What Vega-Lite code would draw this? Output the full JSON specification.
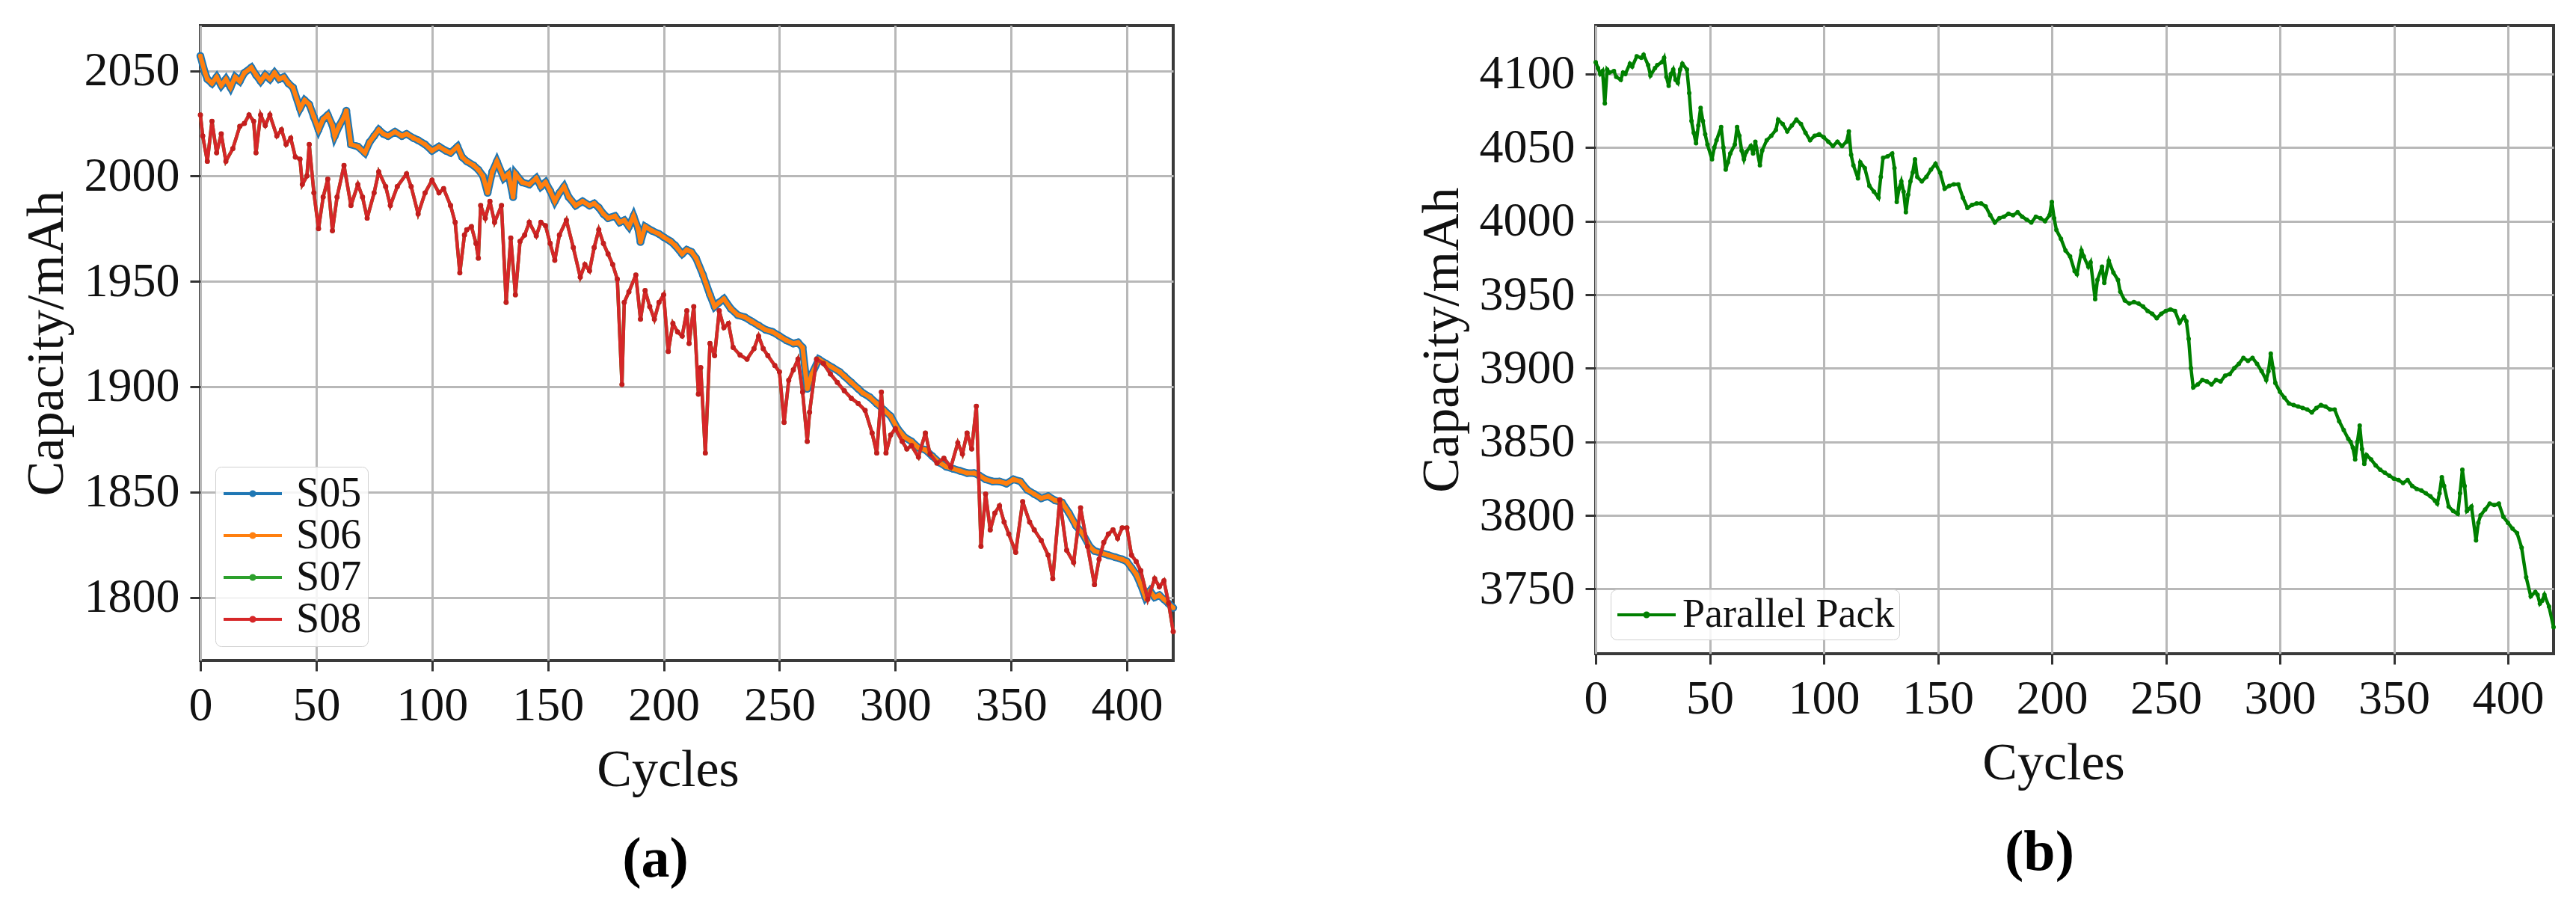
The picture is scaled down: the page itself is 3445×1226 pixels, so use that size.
{
"$schema":"https://vega.github.io/schema/vega-lite/v6.json",
"background":"white",
"padding":{"left":25,"top":32,"right":0,"bottom":0},
"datasets":{
"band":[{"c":0,"S05":2057,"S06":2057},{"c":2,"S05":2049,"S06":2049},{"c":3,"S05":2046,"S06":2046},{"c":5,"S05":2044,"S06":2044},{"c":7,"S05":2047,"S06":2047},{"c":9,"S05":2043,"S06":2043},{"c":11,"S05":2046,"S06":2046},{"c":13,"S05":2042,"S06":2042},{"c":15,"S05":2047,"S06":2047},{"c":17,"S05":2045,"S06":2045},{"c":19,"S05":2049,"S06":2049},{"c":22,"S05":2051.5,"S06":2051.5},{"c":24,"S05":2048,"S06":2048},{"c":26,"S05":2045,"S06":2045},{"c":28,"S05":2048,"S06":2048},{"c":30,"S05":2046,"S06":2046},{"c":32,"S05":2049,"S06":2049},{"c":34,"S05":2046,"S06":2046},{"c":36,"S05":2047,"S06":2047},{"c":38,"S05":2044,"S06":2044},{"c":40,"S05":2042,"S06":2042},{"c":43,"S05":2032,"S06":2032},{"c":45,"S05":2036,"S06":2036},{"c":47,"S05":2034,"S06":2034},{"c":49,"S05":2028,"S06":2028},{"c":51,"S05":2022,"S06":2022},{"c":53,"S05":2027,"S06":2027},{"c":55,"S05":2029,"S06":2029},{"c":57,"S05":2024,"S06":2024},{"c":58,"S05":2019,"S06":2019},{"c":60,"S05":2024,"S06":2024},{"c":62,"S05":2028,"S06":2028},{"c":63,"S05":2031,"S06":2031},{"c":65,"S05":2015,"S06":2015},{"c":68,"S05":2014,"S06":2014},{"c":71,"S05":2011,"S06":2011},{"c":73,"S05":2016,"S06":2016},{"c":75,"S05":2019,"S06":2019},{"c":77,"S05":2022,"S06":2022},{"c":79,"S05":2020,"S06":2020},{"c":81,"S05":2019,"S06":2019},{"c":84,"S05":2021,"S06":2021},{"c":87,"S05":2019,"S06":2019},{"c":89,"S05":2020,"S06":2020},{"c":92,"S05":2018,"S06":2018},{"c":94,"S05":2017,"S06":2017},{"c":97,"S05":2015,"S06":2015},{"c":100,"S05":2012,"S06":2012},{"c":103,"S05":2014,"S06":2014},{"c":106,"S05":2012,"S06":2012},{"c":108,"S05":2011,"S06":2011},{"c":111,"S05":2014,"S06":2014},{"c":113,"S05":2009,"S06":2009},{"c":115,"S05":2007,"S06":2007},{"c":118,"S05":2005,"S06":2005},{"c":120,"S05":2003,"S06":2003},{"c":122,"S05":2000,"S06":2000},{"c":124,"S05":1992,"S06":1992},{"c":126,"S05":2002,"S06":2002},{"c":128,"S05":2007,"S06":2007},{"c":131,"S05":1999,"S06":1999},{"c":133,"S05":2001,"S06":2001},{"c":135,"S05":1990,"S06":1990},{"c":136,"S05":2001,"S06":2001},{"c":139,"S05":1997,"S06":1997},{"c":142,"S05":1996,"S06":1996},{"c":145,"S05":1999,"S06":1999},{"c":147,"S05":1995,"S06":1995},{"c":149,"S05":1997,"S06":1997},{"c":151,"S05":1993,"S06":1993},{"c":153,"S05":1988,"S06":1988},{"c":155,"S05":1992,"S06":1992},{"c":157,"S05":1995,"S06":1995},{"c":159,"S05":1990,"S06":1990},{"c":162,"S05":1986,"S06":1986},{"c":165,"S05":1988,"S06":1988},{"c":168,"S05":1986,"S06":1986},{"c":170,"S05":1987,"S06":1987},{"c":172,"S05":1985,"S06":1985},{"c":174,"S05":1982,"S06":1982},{"c":176,"S05":1980,"S06":1980},{"c":179,"S05":1981,"S06":1981},{"c":181,"S05":1978,"S06":1978},{"c":183,"S05":1979,"S06":1979},{"c":185,"S05":1976,"S06":1976},{"c":187,"S05":1981,"S06":1981},{"c":189,"S05":1975,"S06":1975},{"c":190,"S05":1968.7,"S06":1968.7},{"c":192,"S05":1976,"S06":1976},{"c":195,"S05":1974,"S06":1974},{"c":198,"S05":1972.5,"S06":1972.5},{"c":200,"S05":1971,"S06":1971},{"c":203,"S05":1969,"S06":1969},{"c":205,"S05":1967,"S06":1967},{"c":208,"S05":1963,"S06":1963},{"c":210,"S05":1965,"S06":1965},{"c":212,"S05":1964,"S06":1964},{"c":214,"S05":1961,"S06":1961},{"c":217,"S05":1953,"S06":1953},{"c":220,"S05":1943.6,"S06":1943.6},{"c":222,"S05":1938,"S06":1938},{"c":224,"S05":1940,"S06":1940},{"c":226,"S05":1941.7,"S06":1941.7},{"c":229,"S05":1937,"S06":1937},{"c":232,"S05":1934,"S06":1934},{"c":235,"S05":1933,"S06":1933},{"c":238,"S05":1931,"S06":1931},{"c":241,"S05":1929,"S06":1929},{"c":244,"S05":1927,"S06":1927},{"c":247,"S05":1926,"S06":1926},{"c":250,"S05":1924,"S06":1924},{"c":253,"S05":1922,"S06":1922},{"c":256,"S05":1920.5,"S06":1920.5},{"c":258,"S05":1921,"S06":1921},{"c":260,"S05":1918.6,"S06":1918.6},{"c":262,"S05":1899,"S06":1899},{"c":264,"S05":1906,"S06":1906},{"c":267,"S05":1913,"S06":1913},{"c":270,"S05":1911,"S06":1911},{"c":273,"S05":1909,"S06":1909},{"c":276,"S05":1907,"S06":1907},{"c":278,"S05":1905,"S06":1905},{"c":281,"S05":1902,"S06":1902},{"c":284,"S05":1899,"S06":1899},{"c":286,"S05":1897,"S06":1897},{"c":289,"S05":1895,"S06":1895},{"c":292,"S05":1892,"S06":1892},{"c":295,"S05":1889,"S06":1889},{"c":298,"S05":1886,"S06":1886},{"c":301,"S05":1880,"S06":1880},{"c":304,"S05":1876,"S06":1876},{"c":307,"S05":1874,"S06":1874},{"c":310,"S05":1871,"S06":1871},{"c":313,"S05":1870,"S06":1870},{"c":316,"S05":1867,"S06":1867},{"c":319,"S05":1864,"S06":1864},{"c":322,"S05":1862,"S06":1862},{"c":325,"S05":1861,"S06":1861},{"c":328,"S05":1860,"S06":1860},{"c":331,"S05":1859,"S06":1859},{"c":334,"S05":1859,"S06":1859},{"c":336,"S05":1858,"S06":1858},{"c":339,"S05":1856,"S06":1856},{"c":342,"S05":1855,"S06":1855},{"c":345,"S05":1855,"S06":1855},{"c":348,"S05":1854,"S06":1854},{"c":351,"S05":1856,"S06":1856},{"c":354,"S05":1855,"S06":1855},{"c":357,"S05":1851,"S06":1851},{"c":360,"S05":1849,"S06":1849},{"c":363,"S05":1847,"S06":1847},{"c":366,"S05":1848,"S06":1848},{"c":369,"S05":1846,"S06":1846},{"c":372,"S05":1845,"S06":1845},{"c":375,"S05":1840,"S06":1840},{"c":378,"S05":1834,"S06":1834},{"c":381,"S05":1830,"S06":1830},{"c":384,"S05":1824,"S06":1824},{"c":386,"S05":1822,"S06":1822},{"c":389,"S05":1821,"S06":1821},{"c":392,"S05":1820,"S06":1820},{"c":395,"S05":1819,"S06":1819},{"c":398,"S05":1818,"S06":1818},{"c":400,"S05":1817,"S06":1817},{"c":402,"S05":1814,"S06":1814},{"c":404,"S05":1811,"S06":1811},{"c":406,"S05":1806,"S06":1806},{"c":408,"S05":1800,"S06":1800},{"c":410,"S05":1803,"S06":1803},{"c":412,"S05":1800,"S06":1800},{"c":414,"S05":1801,"S06":1801},{"c":416,"S05":1799,"S06":1799},{"c":418,"S05":1797,"S06":1797},{"c":420,"S05":1795,"S06":1795}],
"red":[{"c":0,"S07":2029,"S08":2029},{"c":1,"S07":2019,"S08":2019},{"c":3,"S07":2007,"S08":2007},{"c":5,"S07":2026,"S08":2026},{"c":7,"S07":2011,"S08":2011},{"c":9,"S07":2020,"S08":2020},{"c":11,"S07":2007,"S08":2007},{"c":14,"S07":2013,"S08":2013},{"c":17,"S07":2023.6,"S08":2023.6},{"c":19,"S07":2025,"S08":2025},{"c":21,"S07":2029,"S08":2029},{"c":23,"S07":2026,"S08":2026},{"c":24,"S07":2011,"S08":2011},{"c":26,"S07":2029,"S08":2029},{"c":28,"S07":2024,"S08":2024},{"c":30,"S07":2029,"S08":2029},{"c":33,"S07":2019,"S08":2019},{"c":35,"S07":2022,"S08":2022},{"c":37,"S07":2015,"S08":2015},{"c":39,"S07":2018,"S08":2018},{"c":41,"S07":2009,"S08":2009},{"c":43,"S07":2008,"S08":2008},{"c":44,"S07":1996,"S08":1996},{"c":46,"S07":2000,"S08":2000},{"c":47,"S07":2015,"S08":2015},{"c":49,"S07":1992,"S08":1992},{"c":51,"S07":1975,"S08":1975},{"c":53,"S07":1990,"S08":1990},{"c":55,"S07":1998.5,"S08":1998.5},{"c":57,"S07":1974,"S08":1974},{"c":59,"S07":1990,"S08":1990},{"c":62,"S07":2005,"S08":2005},{"c":65,"S07":1986,"S08":1986},{"c":68,"S07":1996,"S08":1996},{"c":70,"S07":1990,"S08":1990},{"c":72,"S07":1980,"S08":1980},{"c":75,"S07":1992,"S08":1992},{"c":77,"S07":2002,"S08":2002},{"c":80,"S07":1995,"S08":1995},{"c":82,"S07":1986,"S08":1986},{"c":85,"S07":1995,"S08":1995},{"c":89,"S07":2001,"S08":2001},{"c":91,"S07":1995,"S08":1995},{"c":94,"S07":1982,"S08":1982},{"c":97,"S07":1992,"S08":1992},{"c":100,"S07":1998,"S08":1998},{"c":103,"S07":1992,"S08":1992},{"c":105,"S07":1994,"S08":1994},{"c":108,"S07":1986,"S08":1986},{"c":110,"S07":1978,"S08":1978},{"c":112,"S07":1954,"S08":1954},{"c":114,"S07":1972,"S08":1972},{"c":115,"S07":1974.5,"S08":1974.5},{"c":117,"S07":1976,"S08":1976},{"c":119,"S07":1968,"S08":1968},{"c":120,"S07":1961,"S08":1961},{"c":121,"S07":1986,"S08":1986},{"c":123,"S07":1980,"S08":1980},{"c":125,"S07":1988,"S08":1988},{"c":127,"S07":1978,"S08":1978},{"c":130,"S07":1986,"S08":1986},{"c":132,"S07":1940,"S08":1940},{"c":134,"S07":1970.6,"S08":1970.6},{"c":136,"S07":1943.6,"S08":1943.6},{"c":138,"S07":1969,"S08":1969},{"c":140,"S07":1972,"S08":1972},{"c":142,"S07":1978,"S08":1978},{"c":145,"S07":1971.6,"S08":1971.6},{"c":147,"S07":1978,"S08":1978},{"c":149,"S07":1976.4,"S08":1976.4},{"c":151,"S07":1968,"S08":1968},{"c":153,"S07":1960,"S08":1960},{"c":155,"S07":1972,"S08":1972},{"c":158,"S07":1979,"S08":1979},{"c":161,"S07":1966,"S08":1966},{"c":164,"S07":1952,"S08":1952},{"c":166,"S07":1958,"S08":1958},{"c":168,"S07":1955,"S08":1955},{"c":170,"S07":1966,"S08":1966},{"c":172,"S07":1974.5,"S08":1974.5},{"c":174,"S07":1968,"S08":1968},{"c":176,"S07":1963,"S08":1963},{"c":178,"S07":1958,"S08":1958},{"c":180,"S07":1951,"S08":1951},{"c":182,"S07":1901,"S08":1901},{"c":183,"S07":1940,"S08":1940},{"c":185,"S07":1945,"S08":1945},{"c":188,"S07":1953,"S08":1953},{"c":190,"S07":1932,"S08":1932},{"c":192,"S07":1945.6,"S08":1945.6},{"c":194,"S07":1938,"S08":1938},{"c":196,"S07":1932,"S08":1932},{"c":198,"S07":1940,"S08":1940},{"c":200,"S07":1943.6,"S08":1943.6},{"c":202,"S07":1916.7,"S08":1916.7},{"c":204,"S07":1930,"S08":1930},{"c":206,"S07":1926,"S08":1926},{"c":208,"S07":1924,"S08":1924},{"c":210,"S07":1936,"S08":1936},{"c":211,"S07":1920.5,"S08":1920.5},{"c":213,"S07":1938,"S08":1938},{"c":215,"S07":1896.4,"S08":1896.4},{"c":216,"S07":1909,"S08":1909},{"c":218,"S07":1868.5,"S08":1868.5},{"c":220,"S07":1920.5,"S08":1920.5},{"c":222,"S07":1914.7,"S08":1914.7},{"c":224,"S07":1936,"S08":1936},{"c":226,"S07":1928,"S08":1928},{"c":228,"S07":1930,"S08":1930},{"c":230,"S07":1918.6,"S08":1918.6},{"c":233,"S07":1915,"S08":1915},{"c":236,"S07":1913,"S08":1913},{"c":239,"S07":1918,"S08":1918},{"c":241,"S07":1924,"S08":1924},{"c":243,"S07":1918,"S08":1918},{"c":245,"S07":1914.7,"S08":1914.7},{"c":248,"S07":1910,"S08":1910},{"c":250,"S07":1907,"S08":1907},{"c":252,"S07":1883,"S08":1883},{"c":254,"S07":1903,"S08":1903},{"c":256,"S07":1908,"S08":1908},{"c":258,"S07":1913,"S08":1913},{"c":260,"S07":1897.4,"S08":1897.4},{"c":262,"S07":1874,"S08":1874},{"c":263,"S07":1887.8,"S08":1887.8},{"c":266,"S07":1913,"S08":1913},{"c":269,"S07":1911,"S08":1911},{"c":272,"S07":1906,"S08":1906},{"c":275,"S07":1902,"S08":1902},{"c":278,"S07":1898,"S08":1898},{"c":281,"S07":1894.5,"S08":1894.5},{"c":284,"S07":1892,"S08":1892},{"c":287,"S07":1888.7,"S08":1888.7},{"c":290,"S07":1878,"S08":1878},{"c":292,"S07":1868.5,"S08":1868.5},{"c":294,"S07":1897.4,"S08":1897.4},{"c":296,"S07":1868.5,"S08":1868.5},{"c":298,"S07":1877,"S08":1877},{"c":300,"S07":1880,"S08":1880},{"c":303,"S07":1874,"S08":1874},{"c":305,"S07":1870.4,"S08":1870.4},{"c":307,"S07":1872,"S08":1872},{"c":310,"S07":1866.6,"S08":1866.6},{"c":313,"S07":1878,"S08":1878},{"c":315,"S07":1868,"S08":1868},{"c":318,"S07":1863.7,"S08":1863.7},{"c":321,"S07":1866,"S08":1866},{"c":324,"S07":1861.8,"S08":1861.8},{"c":327,"S07":1873.3,"S08":1873.3},{"c":329,"S07":1868,"S08":1868},{"c":331,"S07":1878,"S08":1878},{"c":333,"S07":1870.4,"S08":1870.4},{"c":335,"S07":1890.7,"S08":1890.7},{"c":337,"S07":1824.2,"S08":1824.2},{"c":339,"S07":1849,"S08":1849},{"c":341,"S07":1832,"S08":1832},{"c":343,"S07":1840,"S08":1840},{"c":345,"S07":1843.4,"S08":1843.4},{"c":347,"S07":1835.7,"S08":1835.7},{"c":349,"S07":1830,"S08":1830},{"c":352,"S07":1821.3,"S08":1821.3},{"c":355,"S07":1845.4,"S08":1845.4},{"c":358,"S07":1835.7,"S08":1835.7},{"c":360,"S07":1832,"S08":1832},{"c":363,"S07":1827,"S08":1827},{"c":366,"S07":1820,"S08":1820},{"c":368,"S07":1808.8,"S08":1808.8},{"c":371,"S07":1846.3,"S08":1846.3},{"c":374,"S07":1822.3,"S08":1822.3},{"c":377,"S07":1816.5,"S08":1816.5},{"c":380,"S07":1842.5,"S08":1842.5},{"c":383,"S07":1824.2,"S08":1824.2},{"c":386,"S07":1806,"S08":1806},{"c":388,"S07":1818,"S08":1818},{"c":390,"S07":1826,"S08":1826},{"c":392,"S07":1830,"S08":1830},{"c":394,"S07":1832,"S08":1832},{"c":396,"S07":1828,"S08":1828},{"c":398,"S07":1833,"S08":1833},{"c":400,"S07":1833,"S08":1833},{"c":402,"S07":1820,"S08":1820},{"c":404,"S07":1817,"S08":1817},{"c":406,"S07":1812.6,"S08":1812.6},{"c":409,"S07":1799,"S08":1799},{"c":412,"S07":1808.8,"S08":1808.8},{"c":414,"S07":1805,"S08":1805},{"c":416,"S07":1807.8,"S08":1807.8},{"c":418,"S07":1797.2,"S08":1797.2},{"c":420,"S07":1783.7,"S08":1783.7}],
"pack":[{"c":0,"P":4108},{"c":1,"P":4104},{"c":2,"P":4100},{"c":3,"P":4102},{"c":4,"P":4080},{"c":5,"P":4103},{"c":6,"P":4101},{"c":8,"P":4102},{"c":9,"P":4098},{"c":11,"P":4096},{"c":12,"P":4101},{"c":13,"P":4100},{"c":15,"P":4107},{"c":16,"P":4105},{"c":18,"P":4112},{"c":20,"P":4111},{"c":21,"P":4113},{"c":23,"P":4106},{"c":24,"P":4099},{"c":26,"P":4104},{"c":27,"P":4106},{"c":29,"P":4108},{"c":30,"P":4111},{"c":31,"P":4098},{"c":32,"P":4092},{"c":33,"P":4100},{"c":34,"P":4103},{"c":35,"P":4096},{"c":36,"P":4094},{"c":37,"P":4103},{"c":38,"P":4107},{"c":40,"P":4103},{"c":41,"P":4087},{"c":42,"P":4068},{"c":43,"P":4060},{"c":44,"P":4053},{"c":45,"P":4065},{"c":46,"P":4077},{"c":47,"P":4068},{"c":48,"P":4059},{"c":49,"P":4052},{"c":51,"P":4042},{"c":52,"P":4050},{"c":53,"P":4055},{"c":55,"P":4064},{"c":56,"P":4050},{"c":57,"P":4035},{"c":58,"P":4040},{"c":59,"P":4046},{"c":61,"P":4052},{"c":62,"P":4064},{"c":63,"P":4058},{"c":64,"P":4048},{"c":65,"P":4042},{"c":66,"P":4047},{"c":68,"P":4051},{"c":69,"P":4046},{"c":70,"P":4054},{"c":72,"P":4038},{"c":73,"P":4048},{"c":75,"P":4055},{"c":77,"P":4058},{"c":79,"P":4062},{"c":80,"P":4069},{"c":82,"P":4066},{"c":84,"P":4061},{"c":86,"P":4065},{"c":88,"P":4069},{"c":90,"P":4066},{"c":92,"P":4060},{"c":94,"P":4055},{"c":96,"P":4058},{"c":98,"P":4059},{"c":100,"P":4057},{"c":102,"P":4054},{"c":104,"P":4051},{"c":106,"P":4054},{"c":108,"P":4051},{"c":110,"P":4054},{"c":111,"P":4061},{"c":112,"P":4045},{"c":113,"P":4038},{"c":115,"P":4029},{"c":116,"P":4040},{"c":118,"P":4036},{"c":120,"P":4024},{"c":122,"P":4020},{"c":124,"P":4016},{"c":125,"P":4030},{"c":126,"P":4043},{"c":128,"P":4044},{"c":130,"P":4046},{"c":131,"P":4036},{"c":132,"P":4013},{"c":133,"P":4022},{"c":134,"P":4027},{"c":135,"P":4020},{"c":136,"P":4006},{"c":137,"P":4018},{"c":138,"P":4027},{"c":139,"P":4033},{"c":140,"P":4042},{"c":141,"P":4030},{"c":143,"P":4027},{"c":145,"P":4030},{"c":147,"P":4035},{"c":149,"P":4039},{"c":151,"P":4033},{"c":153,"P":4022},{"c":155,"P":4024},{"c":157,"P":4025},{"c":159,"P":4025},{"c":161,"P":4016},{"c":163,"P":4009},{"c":165,"P":4011},{"c":167,"P":4012},{"c":169,"P":4012},{"c":171,"P":4010},{"c":173,"P":4004},{"c":175,"P":3999},{"c":177,"P":4002},{"c":179,"P":4003},{"c":181,"P":4005},{"c":183,"P":4004},{"c":185,"P":4006},{"c":187,"P":4003},{"c":189,"P":4001},{"c":191,"P":3999},{"c":193,"P":4003},{"c":195,"P":4002},{"c":197,"P":4000},{"c":199,"P":4004},{"c":200,"P":4013},{"c":201,"P":4002},{"c":202,"P":3994},{"c":204,"P":3988},{"c":206,"P":3980},{"c":208,"P":3976},{"c":210,"P":3966},{"c":211,"P":3964},{"c":213,"P":3980},{"c":214,"P":3976},{"c":216,"P":3969},{"c":217,"P":3972},{"c":219,"P":3947},{"c":220,"P":3960},{"c":222,"P":3969},{"c":223,"P":3958},{"c":225,"P":3973},{"c":227,"P":3965},{"c":229,"P":3960},{"c":230,"P":3952},{"c":232,"P":3946},{"c":234,"P":3944},{"c":236,"P":3945},{"c":238,"P":3944},{"c":240,"P":3942},{"c":242,"P":3939},{"c":244,"P":3937},{"c":246,"P":3934},{"c":248,"P":3937},{"c":250,"P":3939},{"c":252,"P":3940},{"c":254,"P":3939},{"c":256,"P":3931},{"c":258,"P":3935},{"c":259,"P":3932},{"c":260,"P":3920},{"c":261,"P":3900},{"c":262,"P":3887},{"c":264,"P":3889},{"c":266,"P":3892},{"c":268,"P":3891},{"c":270,"P":3889},{"c":272,"P":3892},{"c":274,"P":3891},{"c":276,"P":3895},{"c":278,"P":3896},{"c":280,"P":3900},{"c":282,"P":3903},{"c":284,"P":3907},{"c":286,"P":3905},{"c":288,"P":3907},{"c":290,"P":3903},{"c":292,"P":3898},{"c":294,"P":3892},{"c":295,"P":3898},{"c":296,"P":3910},{"c":297,"P":3900},{"c":298,"P":3890},{"c":300,"P":3884},{"c":302,"P":3880},{"c":304,"P":3876},{"c":306,"P":3875},{"c":308,"P":3874},{"c":310,"P":3873},{"c":312,"P":3872},{"c":314,"P":3870},{"c":316,"P":3873},{"c":318,"P":3875},{"c":320,"P":3874},{"c":322,"P":3872},{"c":324,"P":3872},{"c":326,"P":3864},{"c":328,"P":3858},{"c":330,"P":3852},{"c":331,"P":3850},{"c":332,"P":3846},{"c":333,"P":3838},{"c":334,"P":3850},{"c":335,"P":3861},{"c":336,"P":3845},{"c":337,"P":3835},{"c":338,"P":3841},{"c":340,"P":3838},{"c":342,"P":3834},{"c":344,"P":3831},{"c":346,"P":3829},{"c":348,"P":3827},{"c":350,"P":3825},{"c":352,"P":3824},{"c":354,"P":3822},{"c":356,"P":3824},{"c":358,"P":3820},{"c":360,"P":3818},{"c":362,"P":3817},{"c":364,"P":3815},{"c":366,"P":3813},{"c":368,"P":3810},{"c":369,"P":3808},{"c":370,"P":3815},{"c":371,"P":3826},{"c":372,"P":3820},{"c":374,"P":3806},{"c":376,"P":3803},{"c":378,"P":3801},{"c":379,"P":3815},{"c":380,"P":3831},{"c":381,"P":3820},{"c":382,"P":3803},{"c":384,"P":3806},{"c":386,"P":3783},{"c":387,"P":3795},{"c":388,"P":3800},{"c":390,"P":3804},{"c":392,"P":3808},{"c":394,"P":3807},{"c":396,"P":3808},{"c":398,"P":3799},{"c":400,"P":3795},{"c":402,"P":3791},{"c":404,"P":3788},{"c":406,"P":3778},{"c":408,"P":3758},{"c":410,"P":3745},{"c":412,"P":3748},{"c":413,"P":3746},{"c":414,"P":3740},{"c":415,"P":3742},{"c":416,"P":3746},{"c":418,"P":3738},{"c":420,"P":3724}]
},
"hconcat":[
{
"width":1301,"height":849,
"title":{"text":"(a)","dx":-42},
"encoding":{"x":{"field":"c","type":"quantitative","title":"Cycles","scale":{"domain":[0,420],"nice":false,"zero":false},"axis":{"values":[0,50,100,150,200,250,300,350,400],"format":"d","titleX":625}}},
"layer":[
{"data":{"name":"band"},"mark":{"type":"line","strokeWidth":10},"encoding":{"y":{"field":"S05","type":"quantitative","title":"Capacity/mAh","scale":{"domain":[1770,2071.5],"nice":false,"zero":false},"axis":{"values":[1800,1850,1900,1950,2000,2050],"format":"d"}},"color":{"datum":"S05","type":"nominal","scale":{"domain":["S05","S06","S07","S08"],"range":["#1f77b4","#ff7f0e","#2ca02c","#d62728"]},"legend":{"orient":"none","legendX":20,"legendY":590,"title":null,"symbolType":"M-1.5,0L1.5,0M0.1,0A0.1,0.1,0,1,1,-0.1,0A0.1,0.1,0,1,1,0.1,0","symbolSize":2704,"symbolStrokeWidth":4,"symbolOffset":14,"labelOffset":30,"labelFontSize":56,"labelLimit":1000,"labelFont":"Liberation Serif","labelColor":"#111111","fillColor":"rgba(255,255,255,0.85)","strokeColor":"#d0d0d0","cornerRadius":8,"padding":8,"rowPadding":0}}}},
{"data":{"name":"band"},"mark":{"type":"point","filled":true,"size":110,"color":"#1f77b4","opacity":1},"encoding":{"y":{"field":"S05","type":"quantitative","title":"Capacity/mAh"}}},
{"data":{"name":"band"},"mark":{"type":"line","strokeWidth":6},"encoding":{"y":{"field":"S06","type":"quantitative","title":"Capacity/mAh"},"color":{"datum":"S06","type":"nominal"}}},
{"data":{"name":"band"},"mark":{"type":"point","filled":true,"size":40,"color":"#ff7f0e","opacity":1},"encoding":{"y":{"field":"S06","type":"quantitative","title":"Capacity/mAh"}}},
{"data":{"name":"red"},"mark":{"type":"line","strokeWidth":4.5},"encoding":{"y":{"field":"S07","type":"quantitative","title":"Capacity/mAh"},"color":{"datum":"S07","type":"nominal"}}},
{"data":{"name":"red"},"mark":{"type":"point","filled":true,"size":40,"color":"#2ca02c","opacity":1},"encoding":{"y":{"field":"S07","type":"quantitative","title":"Capacity/mAh"}}},
{"data":{"name":"red"},"mark":{"type":"line","strokeWidth":4.5},"encoding":{"y":{"field":"S08","type":"quantitative","title":"Capacity/mAh"},"color":{"datum":"S08","type":"nominal"}}},
{"data":{"name":"red"},"mark":{"type":"point","filled":true,"size":48,"color":"#c41e1e","opacity":1},"encoding":{"y":{"field":"S08","type":"quantitative","title":"Capacity/mAh"}}}
]
},
{
"width":1281,"height":840,
"title":{"text":"(b)","dx":-47},
"data":{"name":"pack"},
"encoding":{"x":{"field":"c","type":"quantitative","title":"Cycles","scale":{"domain":[0,420],"nice":false,"zero":false},"axis":{"values":[0,50,100,150,200,250,300,350,400],"format":"d","titleX":612}},
"y":{"field":"P","type":"quantitative","title":"Capacity/mAh","scale":{"domain":[3706,4133],"nice":false,"zero":false},"axis":{"values":[3750,3800,3850,3900,3950,4000,4050,4100],"format":"d"}}},
"layer":[
{"mark":{"type":"line","strokeWidth":4.5},"encoding":{"color":{"datum":"Parallel Pack","type":"nominal","scale":{"domain":["Parallel Pack"],"range":["#008000"]},"legend":{"orient":"none","legendX":20,"legendY":754,"title":null,"symbolType":"M-1.5,0L1.5,0M0.1,0A0.1,0.1,0,1,1,-0.1,0A0.1,0.1,0,1,1,0.1,0","symbolSize":2704,"symbolStrokeWidth":4,"symbolOffset":14,"labelOffset":20,"labelFontSize":54,"labelLimit":1000,"labelFont":"Liberation Serif","labelColor":"#111111","fillColor":"rgba(255,255,255,0.85)","strokeColor":"#d0d0d0","cornerRadius":8,"padding":6,"rowPadding":0}}}},
{"mark":{"type":"point","filled":true,"size":36,"color":"#008000","opacity":1}}
]
}
],
"spacing":300,
"resolve":{"scale":{"color":"independent","x":"independent","y":"independent"},"legend":{"color":"independent"},"axis":{"x":"independent","y":"independent"}},
"config":{
"font":"Liberation Serif",
"view":{"stroke":"#3a3a3a","strokeWidth":4},
"axis":{"labelFont":"Liberation Serif","titleFont":"Liberation Serif","labelFontSize":64,"titleFontSize":70,"titleFontWeight":"normal","labelColor":"#111111","titleColor":"#111111","tickSize":14,"tickWidth":3,"tickColor":"#333333","domain":false,"gridColor":"#b8b8b8","gridWidth":3,"labelFlush":false},
"axisX":{"labelPadding":14,"titlePadding":20},
"axisY":{"labelPadding":14,"titlePadding":14},
"title":{"font":"Liberation Serif","fontSize":76,"fontWeight":"bold","color":"#000000","orient":"bottom","anchor":"middle","frame":"group","offset":48}
}
}
